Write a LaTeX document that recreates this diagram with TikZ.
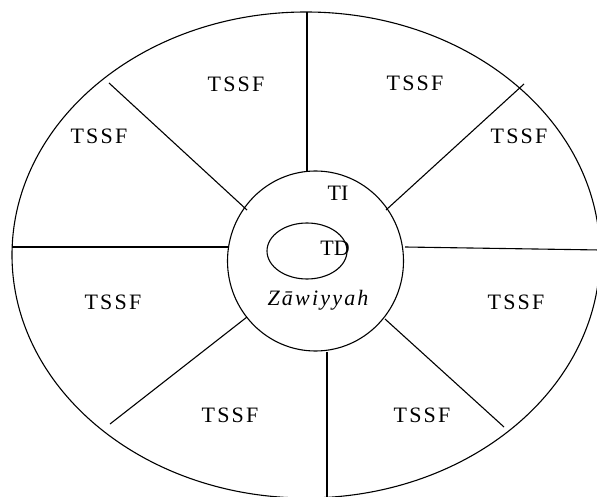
\documentclass[tikz,border=0pt]{standalone}
\usepackage{fontspec}
\setmainfont{Liberation Serif}
\usepackage{tikz}
\usetikzlibrary{calc}

\begin{document}
\begin{tikzpicture}[x=1pt,y=-1pt,line width=1.1pt,
    every node/.style={font=\fontsize{22}{26}\selectfont},
    sector/.style={font=\fontsize{22}{26}\selectfont\addfontfeature{LetterSpace=10}}]

    \useasboundingbox (0,0) rectangle (597,497);

    % Outer ring, inner circle and core
    \draw (306,255) ellipse [x radius=294, y radius=243];
    \draw (315.5,261) ellipse [x radius=88, y radius=90];
    \draw (307,251) ellipse [x radius=40, y radius=28];

    % Define the ends of the spokes as coordinates
    \coordinate (out1) at (307,12);   \coordinate (in1) at (307,171);
    \coordinate (out2) at (524,84);   \coordinate (in2) at (386,210);
    \coordinate (out3) at (600,250);  \coordinate (in3) at (405,247);
    \coordinate (out4) at (504,427);  \coordinate (in4) at (385,319);
    \coordinate (out5) at (327,500);  \coordinate (in5) at (327,352);
    \coordinate (out6) at (110,424);  \coordinate (in6) at (247,317);
    \coordinate (out7) at (12,247);   \coordinate (in7) at (228,247);
    \coordinate (out8) at (109,83);   \coordinate (in8) at (247,210);

    \foreach \i in {1,...,8}
        \draw (out\i) -- (in\i);

    % Sectors
    \node[sector] (tssf1) at (236,84) {TSSF};
    \node[sector] (tssf2) at (415,83) {TSSF};
    \node[sector] (tssf3) at (519,136) {TSSF};
    \node[sector] (tssf4) at (516,302) {TSSF};
    \node[sector] (tssf5) at (422,415) {TSSF};
    \node[sector] (tssf6) at (230,415) {TSSF};
    \node[sector] (tssf7) at (113,302) {TSSF};
    \node[sector] (tssf8) at (99,136) {TSSF};

    % Centre
    \node (ti) at (338,193) {TI};
    \node (td) at (335,248) {TD};
    \node[sector] (zaw) at (318,300) {\itshape Zāwiyyah};

\end{tikzpicture}
\end{document}
